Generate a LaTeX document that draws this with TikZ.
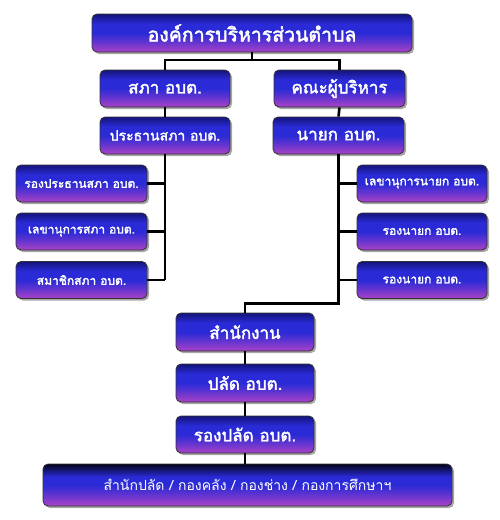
\documentclass[tikz,border=0pt]{standalone}
\usepackage{fontspec}
\newfontfamily\thaifont[Script=Thai]{Loma}
\newfontfamily\thaibold[Script=Thai, FakeBold=2.2]{Loma}
\usetikzlibrary{shadows}
\definecolor{bnavy}{HTML}{14147A}
\definecolor{bblue}{HTML}{2A2AD6}
\definecolor{bpurp}{HTML}{A040C8}
\definecolor{bblack}{HTML}{02021A}
\pgfdeclareverticalshading{boxshade}{100bp}{color(0bp)=(bpurp); color(27bp)=(bpurp); color(40bp)=(bblue!60!bpurp); color(50bp)=(bblue); color(62bp)=(bblue); color(75bp)=(bnavy); color(100bp)=(bnavy)}
\pgfdeclareverticalshading{boxshadedark}{100bp}{color(0bp)=(bpurp); color(27bp)=(bpurp); color(40bp)=(bblue!60!bpurp); color(50bp)=(bblue); color(60bp)=(bblue); color(75bp)=(bblack); color(100bp)=(bblack)}
\tikzset{
  box/.style={draw=black!80, line width=0.8pt, rounded corners=5pt, shading=boxshade,
    inner sep=0pt, text=white, font=\thaibold\fontsize{12}{14}\selectfont,
    drop shadow={shadow xshift=2pt, shadow yshift=-2pt, fill=black!35, opacity=1}},
  bigbox/.style={box, font=\thaibold\fontsize{17}{20}\selectfont},
  midbox/.style={box, font=\thaibold\fontsize{14}{17}\selectfont},
  topbox/.style={box, font=\thaibold\fontsize{19.5}{22}\selectfont},
  bottombox/.style={box, shading=boxshadedark, font=\thaifont\fontsize{14}{17}\selectfont},
  conn/.style={line width=2.6pt, black, line join=miter}
}
\begin{document}
\begin{tikzpicture}[x=1pt,y=-1pt]
\useasboundingbox (0,0) rectangle (500,520);
% nodes
\node[topbox, minimum width=320pt, minimum height=38pt] (top) at (252,33) {องค์การบริหารส่วนตำบล};
\node[bigbox, minimum width=130pt, minimum height=37pt] (sapha) at (165,88.5) {สภา อบต.};
\node[bigbox, minimum width=131pt, minimum height=37pt] (khana) at (339.5,88.5) {คณะผู้บริหาร};
\node[midbox, minimum width=130pt, minimum height=37pt] (prathan) at (165,135.5) {ประธานสภา อบต.};
\node[bigbox, minimum width=131pt, minimum height=37pt] (nayok) at (338.5,135.5) {นายก อบต.};
\node[box, minimum width=131pt, minimum height=37pt] (l1) at (81.5,183.5) {รองประธานสภา อบต.};
\node[box, minimum width=131pt, minimum height=37pt] (l2) at (81.5,231.5) {เลขานุการสภา อบต.};
\node[box, minimum width=131pt, minimum height=37pt] (l3) at (81.5,280) {สมาชิกสภา อบต.};
\node[box, minimum width=130pt, minimum height=37pt] (r1) at (422,183.5) {เลขานุการนายก อบต.};
\node[box, minimum width=130pt, minimum height=37pt] (r2) at (422,231.5) {รองนายก อบต.};
\node[box, minimum width=130pt, minimum height=37pt] (r3) at (422,280) {รองนายก อบต.};
\node[bigbox, minimum width=138pt, minimum height=38pt] (office) at (245,332) {สำนักงาน};
\node[bigbox, minimum width=138pt, minimum height=38pt] (palad) at (245,383) {ปลัด อบต.};
\node[bigbox, minimum width=138pt, minimum height=37pt] (rongpalad) at (245,434.5) {รองปลัด อบต.};
\node[bottombox, minimum width=409pt, minimum height=42pt] (bottom) at (247.5,485) {สำนักปลัด / กองคลัง / กองช่าง / กองการศึกษาฯ};
% junctions
\coordinate (jt) at (0,60);
\coordinate (jr) at (0,303.5);
% connectors
\draw[conn] (top.south) -- (top.south |- jt);
\draw[conn] (sapha.north) -- (sapha.north |- jt) -- (khana.north |- jt) -- (khana.north);
\draw[conn] (sapha.south) -- (prathan.north);
\draw[conn] (prathan.south) -- (prathan.south |- l3.east);
\draw[conn] (l1.east) -- (l1.east -| prathan.south);
\draw[conn] (l2.east) -- (l2.east -| prathan.south);
\draw[conn] (l3.east) -- (l3.east -| prathan.south);
\draw[conn] (khana.south) -- (nayok.north);
\draw[conn] (nayok.south) -- (nayok.south |- jr) -- (office.north |- jr) -- (office.north);
\draw[conn] (r1.west) -- (r1.west -| nayok.south);
\draw[conn] (r2.west) -- (r2.west -| nayok.south);
\draw[conn] (r3.west) -- (r3.west -| nayok.south);
\draw[conn] (office.south) -- (palad.north);
\draw[conn] (palad.south) -- (rongpalad.north);
\draw[conn] (rongpalad.south) -- (rongpalad.south |- bottom.north);
\end{tikzpicture}
\end{document}
